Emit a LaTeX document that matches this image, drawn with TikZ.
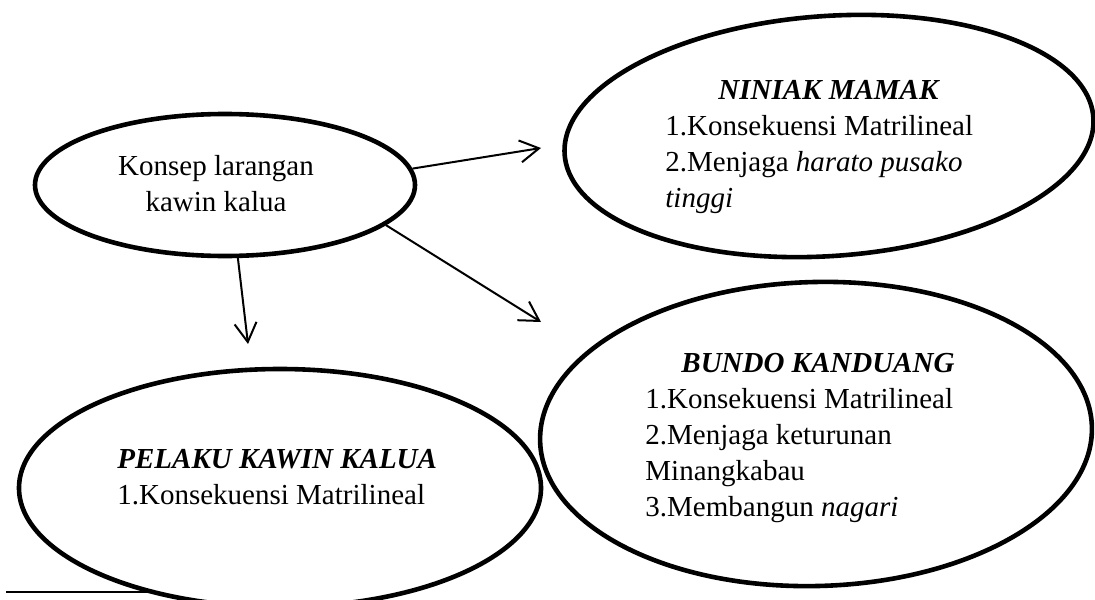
\documentclass[tikz,border=0pt]{standalone}
\usepackage{fontspec}
\setmainfont{Liberation Serif}
\usetikzlibrary{shapes.geometric, arrows.meta}

\begin{document}
\begin{tikzpicture}[x=0.5pt, y=-0.5pt,
      elips/.style={draw, ellipse, line width=2.3pt, inner sep=0pt},
      panah/.style={-{Straight Barb[length=9.5pt, width=11pt]}, line width=1pt},
      teks/.style={inner sep=0pt, font=\fontsize{14.5}{18}\selectfont}]
            \useasboundingbox (0,0) rectangle (1095,599);
            % Ellipses
            \node[elips, minimum width=190pt, minimum height=71pt] (konsep) at (225,185) {};
            \node[elips, minimum width=265pt, minimum height=120pt, rotate=4] (ninik) at (829,136) {};
            \node[elips, minimum width=276pt, minimum height=152pt, rotate=1.5] (bundo) at (816,434) {};
            \node[elips, minimum width=261pt, minimum height=119pt] (pelaku) at (280,488) {};
            % Texts inside the ellipses
            \node[teks, align=center] (konsepT) at (216,184) {Konsep larangan\\kawin kalua};
            \node[teks, align=left, anchor=north west] (ninikT) at (665,80)
               {\hspace*{26.5pt}\textbf{\textit{NINIAK MAMAK}}\\1.Konsekuensi Matrilineal\\2.Menjaga \textit{harato pusako}\\\textit{tinggi}};
            \node[teks, align=left, anchor=north west] (bundoT) at (645,353)
               {\hspace*{18pt}\textbf{\textit{BUNDO KANDUANG}}\\1.Konsekuensi Matrilineal\\2.Menjaga keturunan\\Minangkabau\\3.Membangun \textit{nagari}};
            \node[teks, align=left, anchor=north west] (pelakuT) at (117,449)
               {\textbf{\textit{PELAKU KAWIN KALUA}}\\1.Konsekuensi Matrilineal};
            % Arrows (tips stop short of the ellipses)
            \coordinate (ujungNinik) at (541,148);
            \coordinate (ujungBundo) at (541,322);
            \coordinate (ujungPelaku) at (248,344);
            \draw[panah] (konsep.5) -- (ujungNinik);
            \draw[panah] (konsep.-14) -- (ujungBundo);
            \draw[panah] (konsep.-80) -- (ujungPelaku);
            % Rule at the bottom left
            \draw[line width=1pt] (6,592) -- (150,592);
         \end{tikzpicture}
\end{document}
